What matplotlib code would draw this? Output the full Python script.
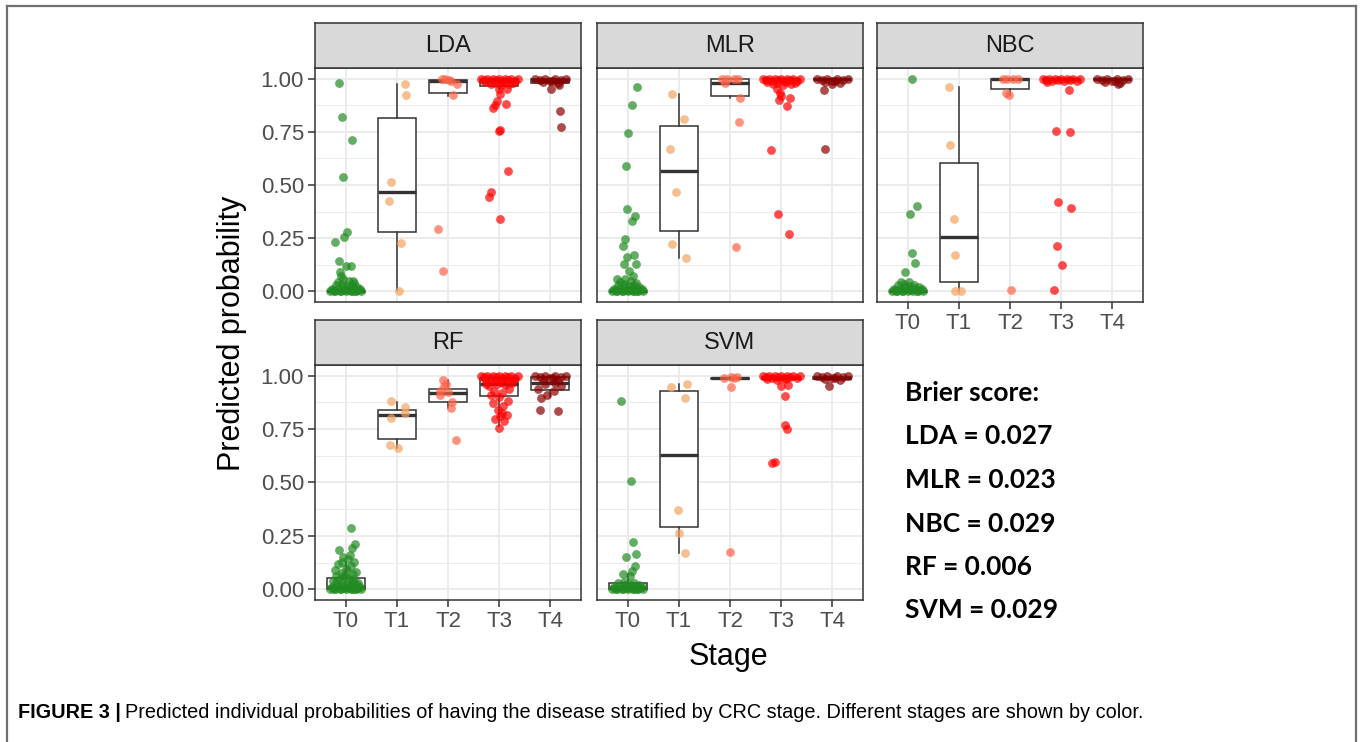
import matplotlib
matplotlib.use("Agg")
import matplotlib.pyplot as plt
from matplotlib.lines import Line2D

plt.rcParams["font.family"] = ["Liberation Sans", "DejaVu Sans"]

stages = ["T0", "T1", "T2", "T3", "T4"]
stage_colors = ["#228B22", "#F4A460", "#FF6347", "#FF0000", "#8B0000"]
models = ["LDA", "MLR", "NBC", "RF", "SVM"]
brier = ["0.027", "0.023", "0.029", "0.006", "0.029"]

# points per stage: (jitter, predicted probability)
zero_cluster = [(-0.30, 0.0), (-0.25, 0.005), (-0.20, 0.0), (-0.15, 0.01), (-0.10, 0.0),
                (-0.05, 0.02), (0.0, 0.0), (0.05, 0.005), (0.10, 0.0), (0.15, 0.015),
                (0.20, 0.0), (0.25, 0.005), (0.30, 0.0), (-0.27, 0.01), (-0.18, 0.03),
                (-0.08, 0.035), (0.02, 0.025), (0.12, 0.03), (0.22, 0.02), (-0.12, 0.0),
                (0.08, 0.01), (0.18, 0.0), (-0.22, 0.0), (0.28, 0.01), (-0.03, 0.005),
                (0.13, 0.002), (-0.16, 0.045), (0.06, 0.05), (-0.06, 0.06), (0.16, 0.04)]
one_cluster = [(-0.36, 1.0), (-0.30, 0.995), (-0.24, 1.0), (-0.18, 0.99), (-0.12, 1.0),
               (-0.06, 0.995), (0.0, 1.0), (0.06, 0.99), (0.12, 1.0), (0.18, 0.995),
               (0.24, 1.0), (0.30, 0.99), (0.36, 1.0), (-0.27, 0.985), (-0.09, 0.98),
               (0.09, 0.985), (0.27, 0.98), (-0.15, 0.975), (0.03, 0.97), (0.2, 0.975)]
one_small = [(-0.30, 1.0), (-0.20, 0.995), (-0.10, 1.0), (0.0, 0.99), (0.10, 1.0),
             (0.20, 0.995), (0.30, 1.0), (-0.15, 0.985), (0.15, 0.98), (0.05, 0.99)]

LDA_PTS = {
    "T0": [(-0.13, 0.978), (-0.07, 0.819), (0.12, 0.711), (-0.05, 0.539), (0.03, 0.280),
           (-0.03, 0.256), (-0.21, 0.231), (-0.13, 0.141), (0.01, 0.119), (0.10, 0.117),
           (-0.12, 0.089), (0.15, 0.05), (-0.10, 0.07)] + zero_cluster,
    "T1": [(0.16, 0.977), (0.18, 0.922), (-0.11, 0.512), (-0.16, 0.427), (0.08, 0.228), (0.04, 0.002)],
    "T2": [(-0.12, 0.997), (0.01, 0.994), (-0.06, 1.0), (0.18, 0.977), (0.10, 0.923),
           (-0.20, 0.291), (-0.09, 0.095), (0.05, 0.99)],
    "T3": one_cluster + [(0.0, 0.95), (0.16, 0.95), (0.02, 0.927), (-0.05, 0.895), (-0.08, 0.875),
                         (-0.12, 0.864), (0.13, 0.883), (0.01, 0.759), (0.0, 0.755), (0.17, 0.567),
                         (-0.16, 0.469), (-0.19, 0.445), (0.02, 0.341)],
    "T4": one_small + [(0.01, 0.95), (0.17, 0.97), (0.18, 0.85), (0.20, 0.772)],
}
MLR_PTS = {
    "T0": [(0.18, 0.959), (0.09, 0.878), (0.0, 0.744), (-0.03, 0.591), (-0.02, 0.388),
           (0.14, 0.352), (0.09, 0.333), (-0.06, 0.244), (-0.10, 0.211), (0.12, 0.169),
           (-0.01, 0.161), (-0.08, 0.130), (0.02, 0.095), (0.17, 0.13), (-0.2, 0.06),
           (0.1, 0.07)] + zero_cluster,
    "T1": [(-0.13, 0.927), (0.10, 0.812), (-0.17, 0.667), (-0.06, 0.467), (-0.14, 0.223), (0.14, 0.156)],
    "T2": [(-0.15, 1.0), (-0.05, 1.0), (0.08, 0.998), (0.16, 0.998), (-0.09, 0.98),
           (0.19, 0.911), (0.18, 0.798), (0.12, 0.208)],
    "T3": one_cluster + [(-0.08, 0.95), (-0.03, 0.934), (0.0, 0.92), (-0.05, 0.90),
                         (0.17, 0.911), (0.11, 0.873), (-0.20, 0.663), (-0.06, 0.364), (0.16, 0.269)],
    "T4": one_small + [(-0.01, 0.973), (-0.16, 0.945), (-0.15, 0.667)],
}
NBC_PTS = {
    "T0": [(0.09, 1.0), (0.18, 0.403), (0.05, 0.363), (0.08, 0.18), (0.14, 0.134),
           (-0.05, 0.091), (-0.13, 0.044), (0.02, 0.044)] + zero_cluster[:24],
    "T1": [(-0.20, 0.961), (-0.18, 0.688), (-0.10, 0.338), (-0.07, 0.173), (-0.07, 0.0), (0.05, 0.0)],
    "T2": [(-0.14, 1.0), (-0.06, 1.0), (0.06, 1.0), (0.16, 1.0), (-0.07, 0.933), (-0.02, 0.922),
           (0.01, 0.005)],
    "T3": one_cluster[:14] + [(0.15, 0.945), (-0.11, 0.755), (0.17, 0.748), (-0.07, 0.42),
                              (0.19, 0.394), (-0.09, 0.214), (0.02, 0.123), (-0.14, 0.005)],
    "T4": one_small + [(0.11, 0.973)],
}
RF_PTS = {
    "T0": [(0.11, 0.289), (0.18, 0.214), (-0.13, 0.184), (0.13, 0.195), (0.08, 0.16),
           (0.17, 0.13), (-0.15, 0.12), (-0.05, 0.15), (0.0, 0.1), (-0.20, 0.09), (0.1, 0.11),
           (-0.08, 0.13), (0.05, 0.14), (0.2, 0.08), (-0.18, 0.06), (-0.25, 0.04), (0.25, 0.03),
           (0.15, 0.07), (-0.1, 0.075), (0.03, 0.085), (-0.02, 0.06), (0.12, 0.05)] + zero_cluster,
    "T1": [(-0.12, 0.88), (0.15, 0.852), (0.15, 0.825), (-0.12, 0.80), (-0.13, 0.677), (0.02, 0.661)],
    "T2": [(-0.09, 0.978), (-0.07, 0.953), (-0.15, 0.930), (-0.16, 0.911), (0.08, 0.877),
           (0.05, 0.848), (0.15, 0.698), (0.0, 0.925), (-0.03, 0.96)],
    "T3": one_cluster + [(-0.01, 0.755), (-0.08, 0.798), (0.10, 0.789), (0.15, 0.817), (0.06, 0.825),
                         (-0.12, 0.872), (0.18, 0.883), (-0.2, 0.95), (0.2, 0.94), (-0.1, 0.93),
                         (0.05, 0.92), (-0.05, 0.96), (0.12, 0.955), (0.0, 0.9), (-0.15, 0.91),
                         (0.25, 0.965), (-0.25, 0.96), (0.08, 0.86), (-0.03, 0.84), (0.02, 0.81)],
    "T4": one_small + [(-0.20, 0.839), (0.16, 0.834), (-0.18, 0.895), (-0.06, 0.911),
                       (0.07, 0.93), (0.2, 0.95), (-0.1, 0.96), (0.1, 0.965), (-0.25, 0.94)],
}
SVM_PTS = {
    "T0": [(-0.14, 0.881), (0.07, 0.505), (0.10, 0.22), (0.16, 0.167), (-0.03, 0.15),
           (0.14, 0.108), (0.08, 0.088), (-0.1, 0.07), (0.05, 0.06)] + zero_cluster[:26],
    "T1": [(-0.15, 0.945), (0.15, 0.961), (0.13, 0.895), (-0.02, 0.369), (0.01, 0.263), (0.12, 0.169)],
    "T2": [(-0.12, 0.99), (0.01, 0.993), (0.14, 0.992), (0.01, 0.948), (0.0, 0.177), (0.08, 0.99)],
    "T3": one_cluster[:16] + [(0.0, 0.95), (0.14, 0.955), (0.08, 0.905), (0.08, 0.767),
                              (0.12, 0.752), (-0.17, 0.592), (-0.12, 0.597)],
    "T4": one_small + [(-0.07, 0.952)],
}

# box stats per stage: (whislo, q1, med, q3, whishi)
LDA_BOX = [(0.0, 0.0, 0.0, 0.003, 0.005), (0.005, 0.277, 0.469, 0.817, 0.973),
           (0.92, 0.934, 0.99, 0.994, 1.0), (0.95, 0.966, 0.99, 1.0, 1.0), (0.97, 0.98, 0.995, 1.0, 1.0)]
MLR_BOX = [(0.0, 0.0, 0.0, 0.002, 0.004), (0.156, 0.286, 0.567, 0.777, 0.927),
           (0.911, 0.92, 0.98, 1.0, 1.0), (0.998, 0.999, 1.0, 1.0, 1.0), (0.998, 0.999, 1.0, 1.0, 1.0)]
NBC_BOX = [(0.0, 0.0, 0.0, 0.001, 0.002), (0.0, 0.044, 0.255, 0.602, 0.961),
           (0.922, 0.95, 1.0, 1.0, 1.0), (0.998, 0.999, 1.0, 1.0, 1.0), (0.998, 0.999, 1.0, 1.0, 1.0)]
RF_BOX = [(0.0, 0.0, 0.012, 0.052, 0.13), (0.661, 0.705, 0.814, 0.841, 0.877),
          (0.848, 0.877, 0.919, 0.939, 0.978), (0.763, 0.906, 0.963, 0.989, 1.0),
          (0.90, 0.933, 0.964, 0.995, 1.0)]
SVM_BOX = [(0.0, 0.0, 0.005, 0.028, 0.07), (0.169, 0.291, 0.630, 0.930, 0.961),
           (0.984, 0.985, 0.988, 0.99, 0.993), (0.985, 0.986, 0.99, 0.992, 0.995),
           (0.985, 0.986, 0.99, 0.992, 0.995)]

points = {"LDA": LDA_PTS, "MLR": MLR_PTS, "NBC": NBC_PTS, "RF": RF_PTS, "SVM": SVM_PTS}
boxes = {"LDA": LDA_BOX, "MLR": MLR_BOX, "NBC": NBC_BOX, "RF": RF_BOX, "SVM": SVM_BOX}

W, H = 1360, 742
fig = plt.figure(figsize=(W / 100, H / 100), dpi=100)

col_left = [315, 597, 877]
panel_w = 266
# (plot top, plot bottom, strip top) in pixels
rows = [(68, 302, 23), (365, 600, 320)]
layout = {"LDA": (0, 0), "MLR": (0, 1), "NBC": (0, 2), "RF": (1, 0), "SVM": (1, 1)}

dark = "#333333"
for m in models:
    r, c = layout[m]
    top, bot, stop = rows[r]
    x0 = col_left[c]
    ax = fig.add_axes([x0 / W, 1 - bot / H, panel_w / W, (bot - top) / H])
    ax.set_xlim(0.4, 5.6)
    ax.set_ylim(-0.05, 1.05)
    ax.set_facecolor("white")
    # grid
    for v in [0.125, 0.375, 0.625, 0.875]:
        ax.axhline(v, color="#ebebeb", lw=0.7, zorder=0)
    for v in [0, 0.25, 0.5, 0.75, 1.0]:
        ax.axhline(v, color="#ebebeb", lw=1.4, zorder=0)
    for i in range(1, 6):
        ax.axvline(i, color="#ebebeb", lw=1.4, zorder=0)

    stats = []
    for i, s in enumerate(stages):
        lo, q1, med, q3, hi = boxes[m][i]
        stats.append({"whislo": lo, "q1": q1, "med": med, "q3": q3, "whishi": hi, "fliers": []})
    ax.bxp(stats, positions=range(1, 6), widths=0.75, showcaps=False, showfliers=False,
           patch_artist=True, manage_ticks=False,
           boxprops=dict(facecolor="white", edgecolor=dark, lw=1.1),
           whiskerprops=dict(color=dark, lw=1.1),
           medianprops=dict(color=dark, lw=2.4, solid_capstyle="butt"), zorder=2)

    for i, s in enumerate(stages):
        pts = points[m][s]
        xs = [i + 1 + p[0] for p in pts]
        ys = [p[1] for p in pts]
        ax.scatter(xs, ys, s=40, color=stage_colors[i], alpha=0.7, lw=0, zorder=3)

    for sp in ax.spines.values():
        sp.set_color(dark)
        sp.set_linewidth(1.1)
    ax.set_yticks([0, 0.25, 0.5, 0.75, 1.0])
    ax.set_xticks(range(1, 6))
    ax.tick_params(length=5, width=1.1, color=dark, labelcolor="#4d4d4d", labelsize=16, pad=3)
    if c == 0:
        ax.set_yticklabels(["0.00", "0.25", "0.50", "0.75", "1.00"])
    else:
        ax.tick_params(axis="y", left=False, labelleft=False)
    if m in ("NBC", "RF", "SVM"):
        ax.set_xticklabels(stages)
    else:
        ax.tick_params(axis="x", bottom=False, labelbottom=False)

    sax = fig.add_axes([x0 / W, 1 - top / H, panel_w / W, (top - stop) / H])
    sax.set_facecolor("#d9d9d9")
    sax.set_xticks([])
    sax.set_yticks([])
    for sp in sax.spines.values():
        sp.set_color(dark)
        sp.set_linewidth(1.1)
    sax.text(0.5, 0.48, m, ha="center", va="center", fontsize=17, color="#1a1a1a",
             transform=sax.transAxes)

fig.text(232 / W, 1 - 333 / H, "Predicted probability", rotation=90, ha="center", va="center",
         fontsize=22)
fig.text(728 / W, 1 - 657 / H, "Stage", ha="center", va="center", fontsize=22)

brier_lines = ["Brier score:"] + [f"{m} = {b}" for m, b in zip(models, brier)]
for k, t in enumerate(brier_lines):
    fig.text(905 / W, 1 - (393 + 43.5 * k) / H, t, ha="left", va="center", fontsize=19,
             fontweight="bold", family=["Lato", "DejaVu Sans"])

# outer frame
frame = dict(color="#707070", lw=1.6, transform=fig.transFigure)
fig.add_artist(Line2D([7 / W, 7 / W], [0, 1 - 6 / H], **frame))
fig.add_artist(Line2D([7 / W, 1356 / W], [1 - 6 / H, 1 - 6 / H], **frame))
fig.add_artist(Line2D([1356 / W, 1356 / W], [0, 1 - 6 / H], **frame))

cap_size = 14.3
t1 = fig.text(18 / W, 1 - 713 / H, "FIGURE 3 |", ha="left", va="center", fontsize=cap_size,
              fontweight="bold")
fig.canvas.draw()
bb = t1.get_window_extent()
fig.text((bb.x1 + 4) / W, 1 - 713 / H,
         "Predicted individual probabilities of having the disease stratified by CRC stage. "
         "Different stages are shown by color.",
         ha="left", va="center", fontsize=cap_size)

fig.savefig("out.png", dpi=100)
